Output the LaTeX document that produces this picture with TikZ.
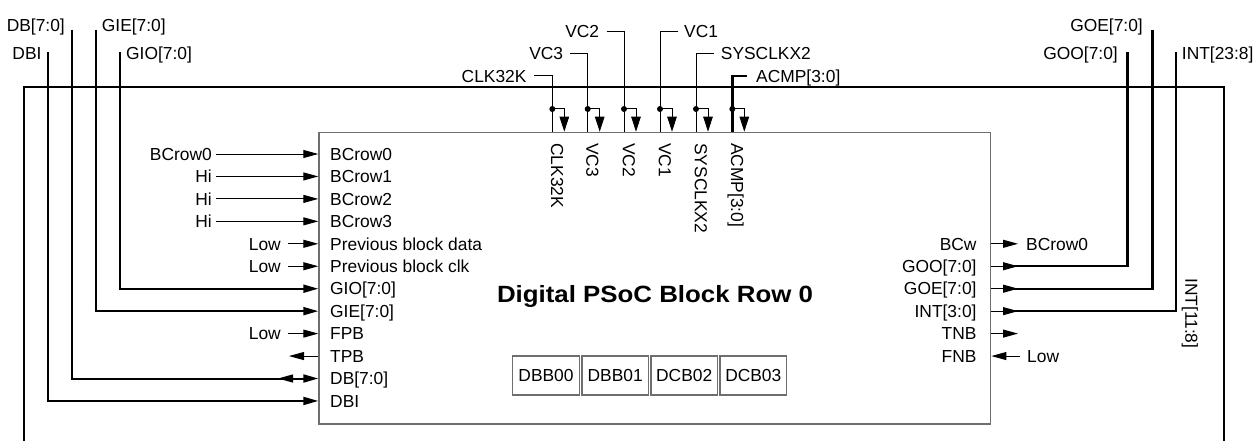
\documentclass[tikz,border=0pt]{standalone}
\usepackage{fontspec}
\setmainfont{Liberation Sans}
\usetikzlibrary{arrows.meta}
\definecolor{boxgray}{RGB}{110,110,110}
\begin{document}
\begin{tikzpicture}[x=1pt,y=-1pt,
  lbl/.style={inner sep=0pt, text height=12.5pt, text depth=0pt, font=\fontsize{17.4}{20}\selectfont},
  sig/.style={line width=1pt, draw=black},
  vbus/.style={line width=2.8pt, draw=black},
  hbus/.style={line width=2pt, draw=black},
  frameline/.style={line width=1.6pt, draw=black},
  tipr/.style={-{Triangle[length=15pt,width=8pt]}},
  tipd/.style={-{Triangle[length=15pt,width=9.5pt]}},
  blkbox/.style={draw=boxgray, line width=1.3pt, minimum width=66.7pt, minimum height=39pt, inner sep=0pt, font=\fontsize{17.4}{20}\selectfont},
  dot/.style={circle, fill=black, inner sep=0pt, minimum size=6pt}
]
\useasboundingbox (0,0) rectangle (1255,441);

% outer frame
\coordinate (fbl) at (24,441);
\coordinate (fbr) at (1224,441);
\coordinate (ftl) at (24,87);
\coordinate (ftr) at (1224,87);
\draw[frameline] (fbl) -- (ftl) -- (ftr) -- (fbr);

% main block
\node[draw=boxgray, line width=1.4pt, minimum width=671.7pt, minimum height=291.6pt, anchor=north west, inner sep=0pt] (blk) at (318.3,131.7) {};
\node[font=\bfseries\fontsize{23.5}{26}\selectfont, inner sep=0pt] (title) at (655,296) {\scalebox{1.1}[1]{Digital PSoC Block Row 0}};

% inner left labels
\foreach \n/\t/\y in {iB0/BCrow0/154, iB1/BCrow1/176.45, iB2/BCrow2/198.9, iB3/BCrow3/221.35,
  iPD/Previous block data/243.8, iPC/Previous block clk/266.25, iGIO/GIO[7:0]/288.7,
  iGIE/GIE[7:0]/311.15, iFPB/FPB/333.6, iTPB/TPB/356.05, iDB/DB[7:0]/378.5, iDBI/DBI/400.95}
  \node[lbl, anchor=west] (\n) at (330,\y) {\t};

% inner right labels
\foreach \n/\t/\y in {iBCw/BCw/243.8, iGOO/GOO[7:0]/266.25, iGOE/GOE[7:0]/288.7,
  iINT/INT[3:0]/311.15, iTNB/TNB/333.6, iFNB/FNB/356.05}
  \node[lbl, anchor=east] (\n) at (976.7,\y) {\t};

% outer left labels and arrows
\node[lbl, anchor=east] (oB0) at (212,154) {BCrow0};
\node[lbl, anchor=east] (oB1) at (212,176.45) {Hi};
\node[lbl, anchor=east] (oB2) at (212,198.9) {Hi};
\node[lbl, anchor=east] (oB3) at (212,221.35) {Hi};
\node[lbl, anchor=east] (oPD) at (281,243.8) {Low};
\node[lbl, anchor=east] (oPC) at (281,266.25) {Low};
\node[lbl, anchor=east] (oFPB) at (281,333.6) {Low};
\foreach \o/\i in {oB0/iB0, oB1/iB1, oB2/iB2, oB3/iB3}
  \draw[sig, tipr] ([xshift=4pt]\o.east) -- (blk.west |- \i);
\foreach \o/\i in {oPD/iPD, oPC/iPC, oFPB/iFPB}
  \draw[sig, tipr] ([xshift=7pt]\o.east) -- (blk.west |- \i);
\coordinate (tpbend) at (289,356.05);
\draw[sig, tipr] (blk.west |- iTPB) -- (tpbend);

% left buses
\node[lbl, anchor=east] (tDB) at (65,25.5) {DB[7:0]};
\node[lbl, anchor=west] (tGIE) at (101.7,25.5) {GIE[7:0]};
\node[lbl, anchor=east] (tDBI) at (41.7,53) {DBI};
\node[lbl, anchor=west] (tGIO) at (126,53) {GIO[7:0]};
\coordinate (bDB) at (72,30);
\coordinate (bGIE) at (96,30);
\coordinate (bDBI) at (48,52);
\coordinate (bGIO) at (120,52);
\foreach \b/\i in {bDBI/iDBI, bDB/iDB, bGIE/iGIE, bGIO/iGIO}{
  \draw[vbus] (\b) -- ([yshift=-1pt]\b |- \i);
  \draw[hbus, tipr] ([xshift=-1.4pt]\b |- \i) -- (blk.west |- \i);
}
\coordinate (dbl) at (278,378.5);
\draw[sig, tipr] (294,378.5) -- (dbl);

% right side outputs
\node[lbl, anchor=west] (oBCw) at (1026,243.8) {BCrow0};
\node[lbl, anchor=west] (oFNB) at (1027,356.05) {Low};
\draw[sig, tipr] (blk.east |- iBCw) -- ([xshift=-8pt]oBCw.west);
\draw[sig, tipr] ([xshift=-7pt]oFNB.west) -- (blk.east |- iFNB);
\coordinate (tnbend) at (1018,333.6);
\draw[sig, tipr] (blk.east |- iTNB) -- (tnbend);

\node[lbl, anchor=east] (tGOE) at (1143,25.5) {GOE[7:0]};
\node[lbl, anchor=east] (tGOO) at (1118,53) {GOO[7:0]};
\node[lbl, anchor=west] (tINT) at (1181.7,53) {INT[23:8]};
\coordinate (bGOE) at (1152.7,30);
\coordinate (bGOO) at (1127.7,52);
\coordinate (bINT) at (1176,52);
\foreach \b/\i in {bGOO/iGOO, bGOE/iGOE, bINT/iINT}{
  \draw[vbus] (\b) -- ([yshift=-1pt]\b |- \i);
  \draw[hbus] (1008,0 |- \i) -- ([xshift=1.4pt]\b |- \i);
  \draw[sig, tipr] (blk.east |- \i) -- (1018,0 |- \i);
}
\node[lbl, anchor=west, rotate=-90] (rINT) at (1191.7,278) {INT[11:8]};

% top clock / comparator inputs
\node[lbl, anchor=east] (tCLK) at (526.7,76) {CLK32K};
\node[lbl, anchor=east] (tVC3) at (563.3,53.3) {VC3};
\node[lbl, anchor=east] (tVC2) at (599.3,31.7) {VC2};
\node[lbl, anchor=west] (tVC1) at (684,31.7) {VC1};
\node[lbl, anchor=west] (tSYS) at (720.7,53.3) {SYSCLKX2};
\node[lbl, anchor=west] (tACMP) at (756,76) {ACMP[3:0]};
\foreach \n/\t/\x in {rCLK/CLK32K/552.3, rVC3/VC3/587.7, rVC2/VC2/624, rVC1/VC1/660, rSYS/SYSCLKX2/696, rACMP/ACMP[3:0]/732.3}{
  \node[lbl, anchor=west, rotate=-90] (\n) at (\x+5,143) {\t};
  \node[dot] (d\n) at (\x,109) {};
  \coordinate (a\n) at (\x+12,131.7);
  \draw[sig, tipd] (d\n.center) -| (a\n);
}
\draw[sig] ([xshift=7.6pt]tCLK.east) -| (blk.north -| drCLK);
\draw[sig] ([xshift=6.7pt]tVC3.east) -| (blk.north -| drVC3);
\draw[sig] ([xshift=7.4pt]tVC2.east) -| (blk.north -| drVC2);
\draw[sig] ([xshift=-5.7pt]tVC1.west) -| (blk.north -| drVC1);
\draw[sig] ([xshift=-6.4pt]tSYS.west) -| (blk.north -| drSYS);
\draw[hbus] ([xshift=-9.3pt]tACMP.west) -- ([xshift=-1.4pt]drACMP |- tACMP);
\draw[vbus] ([yshift=-1pt]drACMP |- tACMP) -- (blk.north -| drACMP);

% digital blocks
\node[blkbox] (b0) at (546,375.5) {DBB00};
\node[blkbox] (b1) at (615.2,375.5) {DBB01};
\node[blkbox] (b2) at (684.2,375.5) {DCB02};
\node[blkbox] (b3) at (753.3,375.5) {DCB03};
\end{tikzpicture}
\end{document}
